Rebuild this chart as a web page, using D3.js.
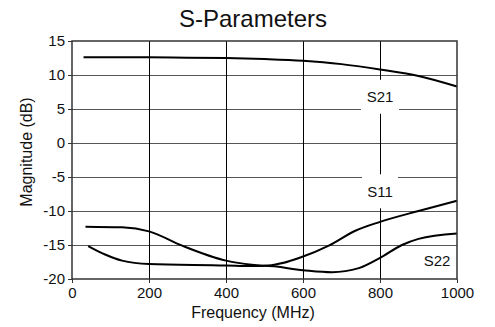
<!DOCTYPE html>
<html>
<head>
<meta charset="utf-8">
<script src="https://cdn.jsdelivr.net/npm/d3@7"></script>
<style>
  html, body { margin: 0; padding: 0; background: #fff; }
  svg { display: block; font-family: "Liberation Sans", Arial, sans-serif; }
</style>
</head>
<body>
<svg id="chart" width="495" height="327"></svg>
<script>
// ---- data ----
const xTicks = [0, 200, 400, 600, 800, 1000];
const yTicks = [-20, -15, -10, -5, 0, 5, 10, 15];

const s21Freq = [30, 100, 200, 300, 400, 500, 600, 700, 800, 900, 1000];
const s21Val  = [12.6, 12.6, 12.6, 12.55, 12.5, 12.35, 12.1, 11.6, 10.8, 9.85, 8.3];

const s11Freq = [35, 130, 200, 286, 400, 467, 500, 600, 667, 736, 800, 900, 1000];
const s11Val  = [-12.3, -12.4, -13.0, -15.1, -17.3, -17.9, -18.05, -16.7, -15.1, -12.9, -11.6, -10.0, -8.5];

const s22Freq = [42, 86, 130, 200, 400, 467, 500, 600, 675, 745, 800, 857, 900, 1000];
const s22Val  = [-15.15, -16.4, -17.3, -17.8, -18.0, -18.1, -18.05, -18.7, -19.0, -18.4, -16.9, -15.0, -14.1, -13.3];

const labelNames = ["S21", "S11", "S22"];
const labelFreq  = [800, 800, 948];
const labelVal   = [6.8, -7.1, -17.35];

// ---- layout ----
const W = 495, H = 327;
const m = { top: 41, right: 38, bottom: 48, left: 72 };
const iw = W - m.left - m.right, ih = H - m.top - m.bottom;

const svg = d3.select("#chart");
const g = svg.append("g").attr("transform", `translate(${m.left},${m.top})`);

const x = d3.scaleLinear().domain([0, 1000]).range([0, iw]);
const y = d3.scaleLinear().domain([-20, 15]).range([ih, 0]);

// horizontal gridlines
g.append("g").selectAll("line").data(yTicks.filter(v => v > -20 && v < 15)).join("line")
  .attr("x1", 0).attr("x2", iw)
  .attr("y1", d => Math.round(y(d)) + 0.5).attr("y2", d => Math.round(y(d)) + 0.5)
  .attr("stroke", "#555").attr("stroke-width", 1.2);

// vertical gridlines
g.append("g").selectAll("line").data(xTicks.filter(v => v > 0 && v < 1000)).join("line")
  .attr("y1", 0).attr("y2", ih)
  .attr("x1", d => Math.round(x(d)) + 0.5).attr("x2", d => Math.round(x(d)) + 0.5)
  .attr("stroke", "#000").attr("stroke-width", 1);

// curves
const line = d3.line().x(d => x(d[0])).y(d => y(d[1])).curve(d3.curveMonotoneX);
const series = [
  d3.zip(s21Freq, s21Val),
  d3.zip(s11Freq, s11Val),
  d3.zip(s22Freq, s22Val)
];
g.append("g").selectAll("path").data(series).join("path")
  .attr("d", line).attr("fill", "none").attr("stroke", "#000").attr("stroke-width", 2);

// labels with white background boxes
const boxW = [38, 36, 34], boxH = [34, 34, 30];
const lab = g.append("g").selectAll("g").data(labelNames).join("g")
  .attr("transform", (d, i) => `translate(${x(labelFreq[i])},${y(labelVal[i])})`);
lab.append("rect")
  .attr("x", (d, i) => -boxW[i] / 2).attr("y", (d, i) => -boxH[i] / 2)
  .attr("width", (d, i) => boxW[i]).attr("height", (d, i) => boxH[i])
  .attr("fill", "#fff");
lab.append("text").text(d => d)
  .attr("text-anchor", "middle").attr("dy", "0.36em")
  .attr("font-size", 15).attr("fill", "#111");

// frame
g.append("rect").attr("x", 0).attr("y", 0).attr("width", iw).attr("height", ih)
  .attr("fill", "none").attr("stroke", "#333").attr("stroke-width", 1.5);

// axes
const fmt = d => String(d);
const xAxis = g.append("g").attr("transform", `translate(0,${ih})`)
  .call(d3.axisBottom(x).tickValues(xTicks).tickFormat(fmt).tickSize(4).tickPadding(4));
const yAxis = g.append("g")
  .call(d3.axisLeft(y).tickValues(yTicks).tickFormat(fmt).tickSize(4).tickPadding(3));
[xAxis, yAxis].forEach(a => {
  a.select(".domain").remove();
  a.selectAll(".tick line").attr("stroke", "#333");
  a.selectAll(".tick text").attr("font-size", 15).attr("fill", "#111")
    .attr("font-family", '"Liberation Sans", Arial, sans-serif');
});

// titles
svg.append("text").attr("x", 253).attr("y", 27).attr("text-anchor", "middle")
  .attr("font-size", 24).attr("fill", "#111").text("S-Parameters");
svg.append("text").attr("x", 253).attr("y", 318).attr("text-anchor", "middle")
  .attr("font-size", 16).attr("fill", "#111").text("Frequency (MHz)");
svg.append("text").attr("transform", "translate(32,152) rotate(-90)")
  .attr("text-anchor", "middle").attr("font-size", 16).attr("fill", "#111")
  .text("Magnitude (dB)");
</script>
</body>
</html>
